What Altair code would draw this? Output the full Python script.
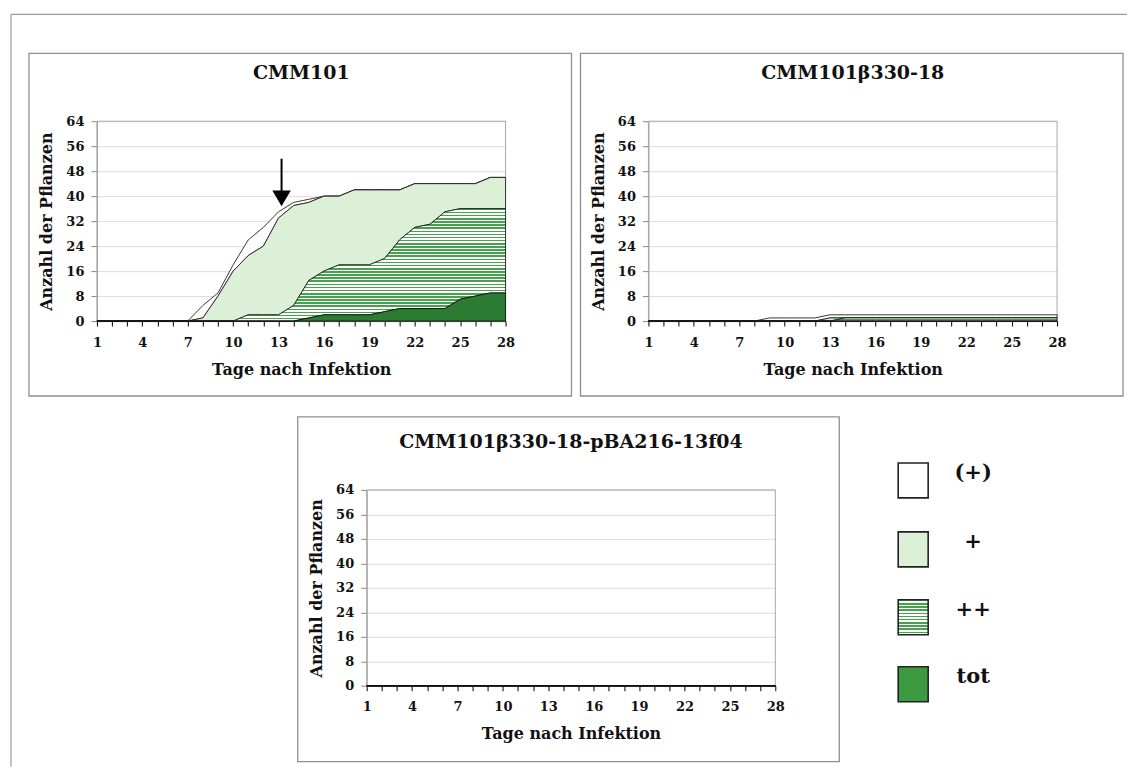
import altair as alt
import pandas as pd
import numpy as np

# ---------------- data ----------------
days = list(range(1, 29))
x_label_days = [1, 4, 7, 10, 13, 16, 19, 22, 25, 28]
y_ticks = [0, 8, 16, 24, 32, 40, 48, 56, 64]
categories = ["(+)", "+", "++", "tot"]

# CMM101 : plants per symptom class and day
cmm_tot = [0] * 14 + [1, 2, 2, 2, 2, 3, 4, 4, 4, 4, 7, 8, 9, 9]
cmm_pp = [0] * 10 + [2, 2, 2, 5, 12, 14, 16, 16, 16, 17, 22, 26, 27, 31, 29, 28, 27, 27]
cmm_p = [0] * 7 + [1, 8, 16, 19, 22, 31, 32, 25, 24, 22, 24, 24, 22, 16, 14, 13, 9, 8, 8, 10, 10]
cmm_pm = [0] * 7 + [4, 1, 2, 5, 6, 2, 1, 1] + [0] * 13

# CMM101beta330-18
b_tot = [0] * 28
b_pp = [0] * 13 + [1] * 15
b_p = [0] * 12 + [1] + [0] * 15
b_pm = [0] * 8 + [1] * 20

# CMM101beta330-18-pBA216-13f04
c_tot = [0] * 28
c_pp = [0] * 28
c_p = [0] * 28
c_pm = [0] * 28

# arrow annotation (left panel)
arrow_day = 13.2
arrow_top, arrow_shaft_end, arrow_head_center = 52, 41, 39.3

# ---------------- style ----------------
FONT = "DejaVu Serif"
PW = 409


def stripes(n, green, frac=0.5):
    stops = []
    for i in range(n):
        a = i / n
        b = (i + frac) / n
        c = (i + 1) / n
        stops += [alt.GradientStop(color=green, offset=a), alt.GradientStop(color=green, offset=b),
                  alt.GradientStop(color="white", offset=b), alt.GradientStop(color="white", offset=c)]
    return alt.LinearGradient(gradient="linear", stops=stops, x1=0, x2=0, y1=0, y2=1)


FILL_PM = "white"
FILL_P = "#dcefd7"
FILL_PP = stripes(36, "#46a34b", 0.5)
FILL_TOT = "#2b7c32"
one = pd.DataFrame({"k": [0]})

xaxis = alt.Axis(values=days, labelExpr="(datum.value - 1) % 3 == 0 ? datum.label : ''",
                 grid=False, tickSize=5, tickColor="black", domainColor="black",
                 labelPadding=10, labelOverlap=False, labelFlush=False,
                 title="Tage nach Infektion", titlePadding=12)
yaxis = alt.Axis(values=y_ticks, grid=True, gridColor="#dcdcdc", tickSize=6, tickColor="#888",
                 domainColor="#999", labelPadding=7, title="Anzahl der Pflanzen", titlePadding=11)


def X(f):
    return alt.X(f"{f}:Q", scale=alt.Scale(domain=[1, 28], nice=False, zero=False), axis=xaxis)


def Y(f):
    return alt.Y(f"{f}:Q", scale=alt.Scale(domain=[0, 64], nice=False), axis=yaxis)


def panel(title, tot, pp, p, pm, height, box, extra_layers=None, first_layers=None):
    t1 = np.array(tot)
    t2 = t1 + np.array(pp)
    t3 = t2 + np.array(p)
    t4 = t3 + np.array(pm)
    df = pd.DataFrame({"day": days, "b0": 0, "t1": t1, "t2": t2, "t3": t3, "t4": t4})

    base = alt.Chart(df)
    layers = list(first_layers or [])
    # panel box
    layers.append(alt.Chart(one).mark_rect(fill=None, stroke="#8f8f8f", strokeWidth=1.3).encode(
        x=alt.value(box[0]), x2=alt.value(box[1]), y=alt.value(box[2]), y2=alt.value(box[3])))
    # title
    layers.append(alt.Chart(one).mark_text(text=title, font=FONT, fontSize=19, fontWeight="bold",
                                           color="#111", baseline="middle", align="center").encode(
        x=alt.value(PW / 2), y=alt.value(-48)))
    # plot-area frame
    layers.append(alt.Chart(one).mark_rect(fill=None, stroke="#a8a8a8", strokeWidth=1).encode(
        x=alt.value(0), x2=alt.value(PW), y=alt.value(0), y2=alt.value(height)))
    lw = 0.9
    layers.append(base.mark_area(fill=FILL_PM, stroke="#222", strokeWidth=lw).encode(
        x=X("day"), y=Y("t4"), y2="t3"))
    layers.append(base.mark_area(fill=FILL_P, stroke="#222", strokeWidth=lw).encode(
        x=X("day"), y=Y("t3"), y2="t2"))
    layers.append(base.mark_area(fill=FILL_PP, stroke="#222", strokeWidth=lw).encode(
        x=X("day"), y=Y("t2"), y2="t1"))
    layers.append(base.mark_area(fill=FILL_TOT, stroke="#111", strokeWidth=lw).encode(
        x=X("day"), y=Y("t1"), y2="b0"))
    if extra_layers:
        layers += extra_layers
    return alt.layer(*layers).properties(width=PW, height=height)


# arrow in left panel
adf = pd.DataFrame({"day": [arrow_day], "y1": [arrow_top], "y2": [arrow_shaft_end], "yh": [arrow_head_center]})
arrow_rule = alt.Chart(adf).mark_rule(color="black", strokeWidth=2).encode(
    x=X("day"), y=Y("y1"), y2="y2")
arrow_head = alt.Chart(adf).mark_point(shape="triangle-down", filled=True, color="black", size=340,
                                       opacity=1).encode(x=X("day"), y=Y("yh"))

# page frame + full-canvas extent (left panel origin is at canvas 97,121)
canvas = alt.Chart(one).mark_rect(fill="white", opacity=0).encode(
    x=alt.value(-97), x2=alt.value(1031), y=alt.value(-121), y2=alt.value(646))
frame_top = alt.Chart(one).mark_rule(color="#9a9a9a", strokeWidth=1.2).encode(
    x=alt.value(-86), x2=alt.value(1031), y=alt.value(-107))
frame_left = alt.Chart(one).mark_rule(color="#9a9a9a", strokeWidth=1.2).encode(
    x=alt.value(-86), y=alt.value(-107), y2=alt.value(646))

left = panel("CMM101", cmm_tot, cmm_pp, cmm_p, cmm_pm, 200, (-68, 475, -68, 275),
             extra_layers=[arrow_rule, arrow_head], first_layers=[canvas, frame_top, frame_left])
right = panel("CMM101β330-18", b_tot, b_pp, b_p, b_pm, 200, (-68, 475, -68, 275))

# legend inside bottom panel coordinates (origin at canvas 367,490)
legend_fills = [FILL_PM, FILL_P, stripes(11, "#46a34b", 0.5), "#3c9b40"]
legend_top = [-27, 42, 110, 177]
legend_layers = []
for name, fill, top in zip(categories, legend_fills, legend_top):
    legend_layers.append(alt.Chart(one).mark_rect(fill=fill, stroke="#222", strokeWidth=1.6).encode(
        x=alt.value(532), x2=alt.value(562), y=alt.value(top), y2=alt.value(top + 35)))
    legend_layers.append(alt.Chart(one).mark_text(text=name, font=FONT, fontSize=21, fontWeight="bold",
                                                  color="#111", align="center", baseline="middle").encode(
        x=alt.value(607), y=alt.value(top + 10)))

bottom = panel("CMM101β330-18-pBA216-13f04", c_tot, c_pp, c_p, c_pm, 196, (-69, 473, -73, 272),
               extra_layers=legend_layers)

spacer = alt.Chart(one).mark_point(opacity=0).encode(x=alt.value(0), y=alt.value(0)).properties(
    width=270, height=196)

top_row = alt.hconcat(left, right, spacing=143, bounds="flush")
bottom_row = alt.hconcat(spacer, bottom, spacing=0, bounds="flush")

# nested flush rows contribute no height, so the spacing spans the top row (200) + gap (169)
chart = alt.vconcat(top_row, bottom_row, spacing=369, bounds="flush").properties(
    padding=0, background="white"
).configure_view(stroke=None).configure_axis(
    labelFont=FONT, labelFontWeight="bold", labelFontSize=13, labelColor="#111",
    titleFont=FONT, titleFontWeight="bold", titleFontSize=16, titleColor="#111"
)

chart.save("out.html", embed_options={"renderer": "svg", "actions": False})
